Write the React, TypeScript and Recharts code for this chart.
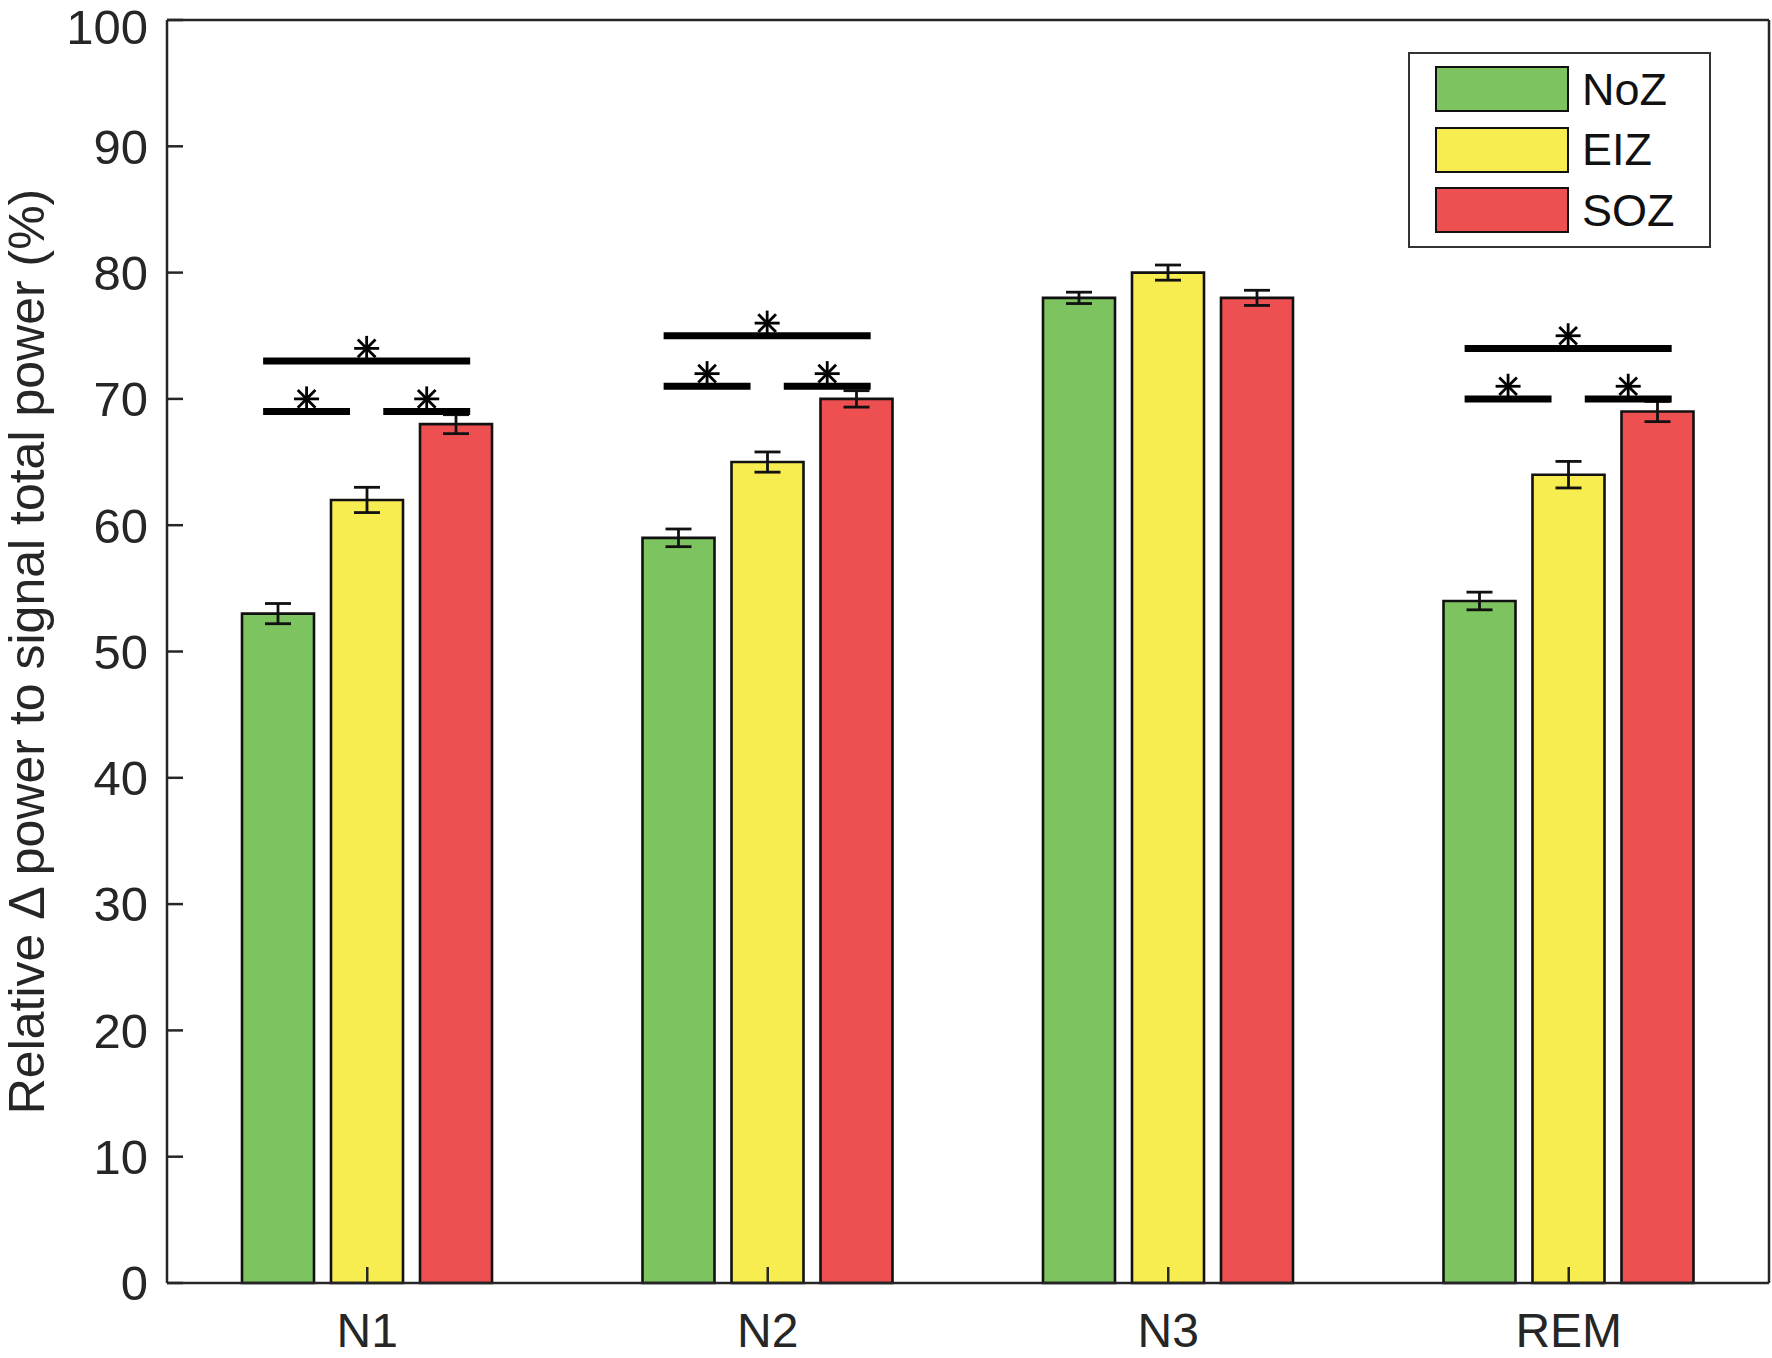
import React from "react"
import {
  ComposedChart,
  Bar,
  ErrorBar,
  XAxis,
  YAxis,
  Scatter,
  ReferenceLine,
  Legend,
  Label,
} from "recharts"

const stages = ["N1", "N2", "N3", "REM"]
const seriesNames = ["NoZ", "EIZ", "SOZ"]
const seriesColors = ["#7dc35f", "#f8ed50", "#ee5052"]

const noZ = [53, 59, 78, 54]
const eiz = [62, 65, 80, 64]
const soz = [68, 70, 78, 69]
const noZErr = [0.8, 0.7, 0.45, 0.7]
const eizErr = [1.0, 0.8, 0.6, 1.05]
const sozErr = [0.75, 0.65, 0.6, 0.8]

const yTicks = [0, 10, 20, 30, 40, 50, 60, 70, 80, 90, 100]

// significance brackets: stage position (1..4), y of long / short lines
const sigStage = [1, 2, 4]
const sigLongY = [73, 75, 74]
const sigShortY = [69, 71, 70]
// spans relative to the stage centre, in category units
const longSpan = [-0.26, 0.257]
const shortSpans = [
  [-0.26, -0.043],
  [0.04, 0.257],
]
const starLift = 1

const data = stages.map((s, i) => ({
  stage: s,
  noZ: noZ[i],
  eiz: eiz[i],
  soz: soz[i],
  noZErr: noZErr[i],
  eizErr: eizErr[i],
  sozErr: sozErr[i],
}))

const sigLines: { x0: number; x1: number; y: number }[] = []
const stars: { x: number; y: number }[] = []
sigStage.forEach((c, i) => {
  sigLines.push({ x0: c + longSpan[0], x1: c + longSpan[1], y: sigLongY[i] })
  stars.push({ x: c + (longSpan[0] + longSpan[1]) / 2, y: sigLongY[i] + starLift })
  shortSpans.forEach((sp) => {
    sigLines.push({ x0: c + sp[0], x1: c + sp[1], y: sigShortY[i] })
    stars.push({ x: c + (sp[0] + sp[1]) / 2, y: sigShortY[i] + starLift })
  })
})

const AXIS = "#262626"
const FONT = "'Liberation Sans', Arial, Helvetica, sans-serif"

const Star = (props: any) => {
  const { cx, cy } = props
  const r = 12.5
  const d = r * 0.7071
  return (
    <g stroke="#000" strokeWidth={2.8}>
      <line x1={cx} y1={cy - r} x2={cx} y2={cy + r} />
      <line x1={cx - r} y1={cy} x2={cx + r} y2={cy} />
      <line x1={cx - d} y1={cy - d} x2={cx + d} y2={cy + d} />
      <line x1={cx - d} y1={cy + d} x2={cx + d} y2={cy - d} />
    </g>
  )
}

// keeps the top label ("100") inside the picture
const YTick = (p: any) => (
  <text
    x={p.x}
    y={Math.max(p.y, 27)}
    dy="0.355em"
    textAnchor="end"
    fontSize={49}
    fontFamily={FONT}
    fill="#262626"
  >
    {p.payload.value}
  </text>
)

const LegendBox = () => (
  <div
    style={{
      width: 303,
      height: 196,
      boxSizing: "border-box",
      border: "2.5px solid #333",
      background: "#fff",
      paddingTop: 5,
      paddingLeft: 25,
      fontFamily: FONT,
    }}
  >
    {seriesNames.map((n, i) => (
      <div key={n} style={{ display: "flex", alignItems: "center", height: 60.5 }}>
        <div
          style={{
            width: 134,
            height: 46,
            boxSizing: "border-box",
            border: "2.5px solid #111",
            background: seriesColors[i],
          }}
        />
        <span style={{ marginLeft: 13, fontSize: 45, color: "#111", lineHeight: 1 }}>{n}</span>
      </div>
    ))}
  </div>
)

const YTitle = (props: any) => {
  const vb = props.viewBox || { y: 20, height: 1263 }
  const x = 44
  const y = vb.y + vb.height / 2
  return (
    <text
      x={x}
      y={y}
      transform={`rotate(-90, ${x}, ${y})`}
      textAnchor="middle"
      fontSize={50}
      fontFamily={FONT}
      fill="#262626"
    >
      Relative Δ power to signal total power (%)
    </text>
  )
}

export default function App() {
  const keys = ["noZ", "eiz", "soz"]
  const errKeys = ["noZErr", "eizErr", "sozErr"]
  return (
    <div style={{ position: "absolute", left: 0, top: 0, background: "#fff" }}>
      <ComposedChart
        width={1772}
        height={1358}
        data={data}
        margin={{ top: 19, right: 0, bottom: 0, left: 0 }}
        barSize={72}
        barGap={17}
        style={{ fontFamily: FONT }}
      >
        <XAxis
          dataKey="stage"
          height={75}
          axisLine={{ stroke: AXIS, strokeWidth: 2.5 }}
          tickLine={{ stroke: AXIS, strokeWidth: 2.5 }}
          tickSize={-16}
          tickMargin={46}
          tick={{ fontSize: 48, fill: "#262626", fontFamily: FONT }}
        />
        <XAxis
          xAxisId="top"
          dataKey="stage"
          orientation="top"
          height={1}
          axisLine={{ stroke: AXIS, strokeWidth: 2.5 }}
          tickLine={{ stroke: AXIS, strokeWidth: 2.5 }}
          tickSize={-16}
          tick={false}
        />
        <XAxis xAxisId="num" type="number" dataKey="x" domain={[0.5, 4.5]} allowDataOverflow hide />
        <YAxis
          width={167}
          domain={[0, 100]}
          ticks={yTicks}
          interval={0}
          axisLine={{ stroke: AXIS, strokeWidth: 2.5 }}
          tickLine={{ stroke: AXIS, strokeWidth: 2.5 }}
          tickSize={-16}
          tickMargin={35}
          tick={YTick}
        >
          <Label content={YTitle} />
        </YAxis>
        <YAxis
          yAxisId="right"
          orientation="right"
          width={3}
          domain={[0, 100]}
          ticks={yTicks}
          interval={0}
          axisLine={{ stroke: AXIS, strokeWidth: 2.5 }}
          tickLine={{ stroke: AXIS, strokeWidth: 2.5 }}
          tickSize={-16}
          tick={false}
        />
        {keys.map((k, i) => (
          <Bar
            key={k}
            dataKey={k}
            name={seriesNames[i]}
            fill={seriesColors[i]}
            stroke="#111"
            strokeWidth={2.6}
            isAnimationActive={false}
          >
            <ErrorBar dataKey={errKeys[i]} width={13} stroke="#111" strokeWidth={2.8} direction="y" />
          </Bar>
        ))}
        {sigLines.map((l, i) => (
          <ReferenceLine
            key={i}
            xAxisId="num"
            segment={[
              { x: l.x0, y: l.y },
              { x: l.x1, y: l.y },
            ]}
            stroke="#000"
            strokeWidth={7}
            ifOverflow="visible"
          />
        ))}
        <Scatter
          xAxisId="num"
          data={stars}
          dataKey="y"
          shape={Star}
          legendType="none"
          isAnimationActive={false}
        />
        <Legend
          layout="horizontal"
          verticalAlign="middle"
          align="center"
          content={LegendBox}
          wrapperStyle={{ left: 1408, top: 52, width: 303, height: 196, right: "auto", bottom: "auto" }}
        />
      </ComposedChart>
    </div>
  )
}
